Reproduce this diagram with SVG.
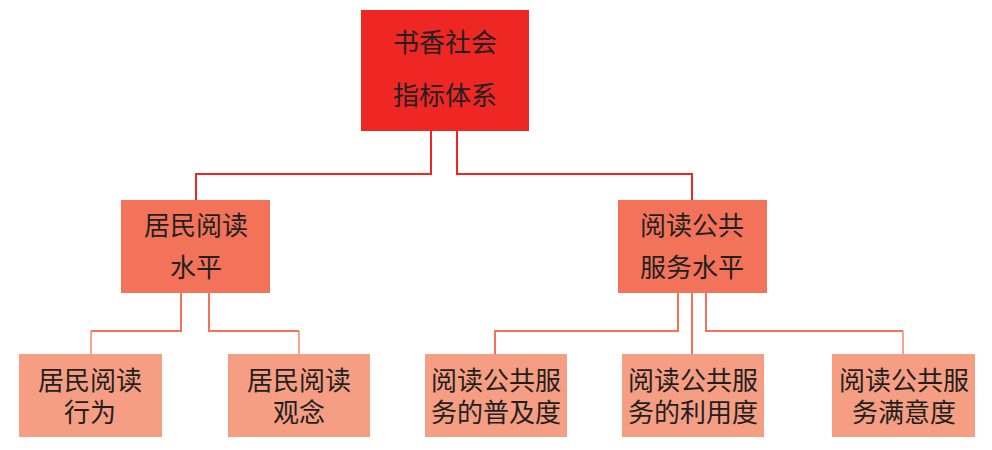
<svg xmlns="http://www.w3.org/2000/svg" width="992" height="450" viewBox="0 0 992 450">
<style>
text{font-family:"Noto Sans CJK SC","Noto Sans",sans-serif;font-size:26px;fill:#231F20;text-anchor:middle}
.l0{fill:#EE2724}
.l1{fill:#F3735A}
.l2{fill:#F69E84}
.c0{stroke:#EE2724;stroke-width:2;fill:none}
.c1{stroke:#F3735A;stroke-width:2;fill:none}
.c2{stroke:#F3735A;stroke-width:1.3;fill:none}
</style>
<rect width="992" height="450" fill="#FFFFFF"/>
<g id="connectors">
<polyline class="c0" points="431,131 431,174 196,174 196,200"/>
<polyline class="c0" points="457,131 457,174 692,174 692,200"/>
<polyline class="c1" points="181,293 181,331 91,331"/>
<line class="c2" x1="91" y1="331" x2="91" y2="354"/>
<polyline class="c1" points="209,293 209,331 299,331"/>
<line class="c2" x1="299" y1="331" x2="299" y2="354"/>
<polyline class="c1" points="678,293 678,331 495,331 495,354"/>
<line class="c1" x1="692" y1="293" x2="692" y2="354"/>
<polyline class="c1" points="706,293 706,331 903,331"/>
<line class="c2" x1="903" y1="331" x2="903" y2="354"/>
</g>
<g id="root">
<rect class="l0" x="361" y="10" width="168" height="121"/>
<text x="445" y="52">书香社会</text>
<text x="445" y="105">指标体系</text>
</g>
<g id="resident-level">
<rect class="l1" x="121" y="200" width="149" height="93"/>
<text x="196" y="235">居民阅读</text>
<text x="196" y="277">水平</text>
</g>
<g id="service-level">
<rect class="l1" x="618" y="200" width="149" height="93"/>
<text x="692" y="235">阅读公共</text>
<text x="692" y="277">服务水平</text>
</g>
<g id="behavior">
<rect class="l2" x="19" y="354" width="143" height="83"/>
<text x="90" y="390">居民阅读</text>
<text x="90" y="422">行为</text>
</g>
<g id="concept">
<rect class="l2" x="228" y="354" width="142" height="83"/>
<text x="299" y="390">居民阅读</text>
<text x="299" y="422">观念</text>
</g>
<g id="coverage">
<rect class="l2" x="425" y="354" width="142" height="83"/>
<text x="496" y="390">阅读公共服</text>
<text x="496" y="422">务的普及度</text>
</g>
<g id="utilization">
<rect class="l2" x="622" y="354" width="142" height="83"/>
<text x="693" y="390">阅读公共服</text>
<text x="693" y="422">务的利用度</text>
</g>
<g id="satisfaction">
<rect class="l2" x="832" y="354" width="143" height="83"/>
<text x="904" y="390">阅读公共服</text>
<text x="904" y="422">务满意度</text>
</g>
</svg>
